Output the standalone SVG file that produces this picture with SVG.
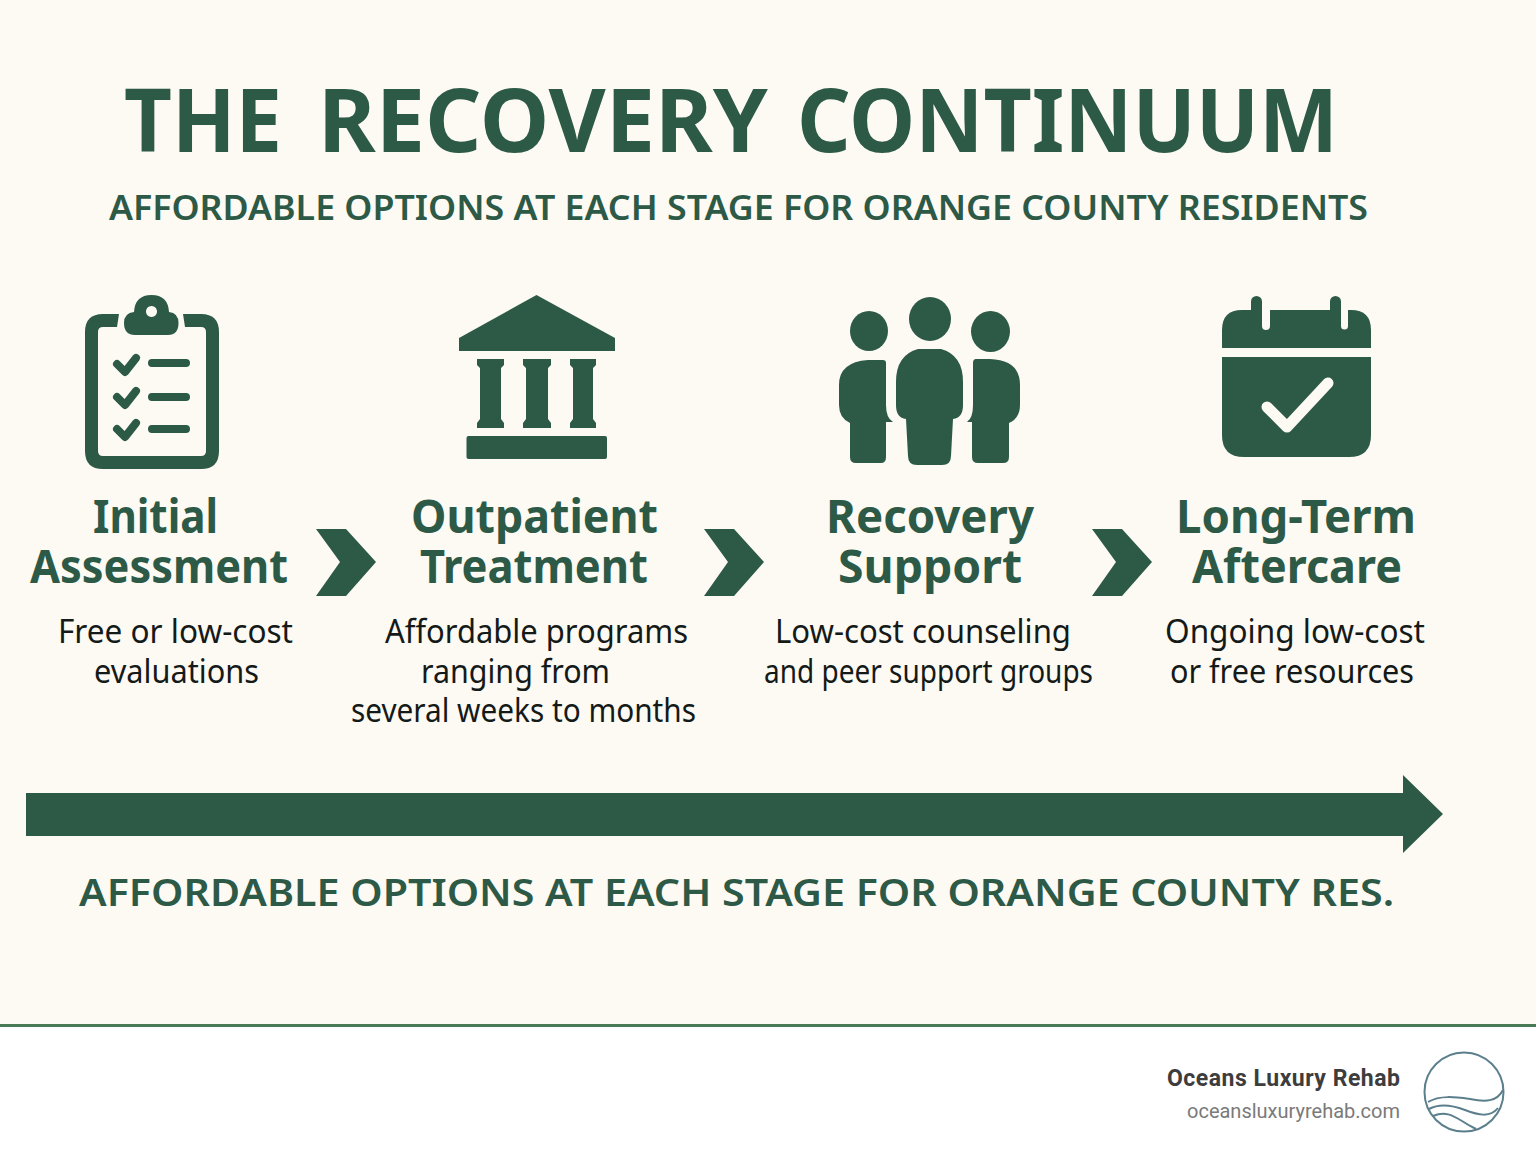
<svg xmlns="http://www.w3.org/2000/svg" width="1536" height="1154" viewBox="0 0 1536 1154">
<style>
text{font-family:"Noto Sans","Liberation Sans",sans-serif;fill:#2d5a47}
.ttl{font-weight:700;font-size:87px}
.sub{font-weight:600;font-size:35px}
.hd{font-weight:700;font-size:47px}
.bd{font-size:32px;fill:#141a18}
.ic{fill:#2d5a47}
.ln{fill:none;stroke:#2d5a47;stroke-linecap:round;stroke-linejoin:round}
.foot{font-family:Roboto,"Liberation Sans",sans-serif}
.wave{fill:none;stroke:#5b7f8c;stroke-width:2}
</style>
<rect width="1536" height="1154" fill="#ffffff"/>
<rect width="1536" height="1024" fill="#fdf9f3"/>
<rect y="1024" width="1536" height="3" fill="#4a7a55"/>
<g id="title">
<text class="ttl" y="152"><tspan x="124" textLength="158" lengthAdjust="spacingAndGlyphs">THE</tspan><tspan x="318" textLength="450" lengthAdjust="spacingAndGlyphs">RECOVERY</tspan><tspan x="797" textLength="541" lengthAdjust="spacingAndGlyphs">CONTINUUM</tspan></text>
<text class="sub" x="109" y="220" textLength="1259" lengthAdjust="spacingAndGlyphs">AFFORDABLE OPTIONS AT EACH STAGE FOR ORANGE COUNTY RESIDENTS</text>
</g>
<g id="node-assessment">
<path class="ic" d="M119 314H103Q85 314 85 332V451Q85 469 103 469H201Q219 469 219 451V332Q219 314 201 314H183L185 327H201Q206 327 206 332V451Q206 456 201 456H103Q98 456 98 451V332Q98 327 103 327H117Z"/>
<path class="ic" fill-rule="evenodd" d="M135 335Q124 335 124 323Q124 313 134 312Q135 295 151.500 295Q168 295 169 312Q178.500 313 178.500 323Q178.500 335 168 335Z M151.500 306a5.500 5.500 0 1 0 .01 0Z"/>
<path class="ln" style="stroke-width:8" d="M117 364L125 372L136 358M117 397L125 405L136 391M117 429L125 437L136 423"/>
<path class="ln" style="stroke-width:8" d="M152 363H186M152 397H186M152 429H186"/>
<text class="hd"><tspan x="93" y="533" textLength="125" lengthAdjust="spacingAndGlyphs">Initial</tspan><tspan x="30" y="583" textLength="258" lengthAdjust="spacingAndGlyphs">Assessment</tspan></text>
<text class="bd" x="58" y="643" textLength="235" lengthAdjust="spacingAndGlyphs">Free or low-cost</text>
<text class="bd" x="94" y="683" textLength="165" lengthAdjust="spacingAndGlyphs">evaluations</text>
</g>
<g id="node-outpatient">
<path class="ic" d="M536.500 295L615 338V351H459V338Z"/>
<path class="ic" d="M477 359H504V365L501 368V419L504 423V428H477V423L480 419V368L477 365Z"/>
<path class="ic" d="M523 359H551V365L548 368V419L551 423V428H523V423L526 419V368L523 365Z"/>
<path class="ic" d="M570 359H596V365L593 368V419L596 423V428H570V423L573 419V368L570 365Z"/>
<rect class="ic" x="466.500" y="436" width="140.500" height="23" rx="2"/>
<text class="hd"><tspan x="411" y="533" textLength="247" lengthAdjust="spacingAndGlyphs">Outpatient</tspan><tspan x="420" y="583" textLength="228" lengthAdjust="spacingAndGlyphs">Treatment</tspan></text>
<text class="bd" x="385" y="643" textLength="303" lengthAdjust="spacingAndGlyphs">Affordable programs</text>
<text class="bd" x="421" y="683" textLength="189" lengthAdjust="spacingAndGlyphs">ranging from</text>
<text class="bd" x="351" y="722" textLength="345" lengthAdjust="spacingAndGlyphs">several weeks to months</text>
</g>
<g id="node-support">
<ellipse class="ic" cx="930" cy="319" rx="21" ry="22"/>
<ellipse class="ic" cx="869" cy="331" rx="19" ry="20"/>
<ellipse class="ic" cx="990.500" cy="331.500" rx="19.500" ry="20.500"/>
<path class="ic" d="M918 349H941Q963 355 963 382V405Q963 418 953 419L951 456Q951 465 942 465H917Q908 465 908 456L906 419Q896 418 896 405V382Q896 355 918 349Z"/>
<path class="ic" d="M883 360Q886 360 886 363V405Q886 418 893 422H886V457Q886 463 881 463H856Q850 463 850 457V423Q839 418 839 405V385Q839 362 868 360Z"/>
<path class="ic" d="M976 359Q973 359 973 363V405Q973 418 967 422H972V457Q972 463 978 463H1003Q1009 463 1009 457V423Q1020 418 1020 405V385Q1020 360 990 359Z"/>
<text class="hd"><tspan x="826" y="533" textLength="208" lengthAdjust="spacingAndGlyphs">Recovery</tspan><tspan x="838" y="583" textLength="184" lengthAdjust="spacingAndGlyphs">Support</tspan></text>
<text class="bd" x="775" y="643" textLength="296" lengthAdjust="spacingAndGlyphs">Low-cost counseling</text>
<text class="bd" x="764" y="683" textLength="329" lengthAdjust="spacingAndGlyphs">and peer support groups</text>
</g>
<g id="node-aftercare">
<path class="ic" d="M1251 310V301.500a5.500 5.500 0 0 1 11 0V326a4 4 0 0 0 8 0V310H1330V301.500a5.500 5.500 0 0 1 11 0V326a3.500 3.500 0 0 0 7 0V310H1351Q1371 310 1371 330V348H1222V330Q1222 310 1242 310Z"/>
<path class="ic" d="M1222 357H1371V435Q1371 457 1349 457H1244Q1222 457 1222 435Z"/>
<path fill="none" stroke="#fdf9f3" stroke-width="11" stroke-linecap="round" stroke-linejoin="round" d="M1267 407L1287 427L1328 383"/>
<text class="hd"><tspan x="1176" y="533" textLength="240" lengthAdjust="spacingAndGlyphs">Long-Term</tspan><tspan x="1192" y="583" textLength="210" lengthAdjust="spacingAndGlyphs">Aftercare</tspan></text>
<text class="bd" x="1165" y="643" textLength="260" lengthAdjust="spacingAndGlyphs">Ongoing low-cost</text>
<text class="bd" x="1170" y="683" textLength="244" lengthAdjust="spacingAndGlyphs">or free resources</text>
</g>
<g id="connectors">
<path class="ic" d="M316 529H346L376 562L346 596H316L340 562Z"/>
<path class="ic" d="M704 529H734L764 562L734 596H704L728 562Z"/>
<path class="ic" d="M1092 529H1122L1152 562L1122 596H1092L1116 562Z"/>
<path class="ic" d="M26 793H1403V775L1443 814L1403 853V836H26Z"/>
</g>
<g id="caption">
<text class="sub" style="font-size:38px" x="79" y="906" textLength="1315" lengthAdjust="spacingAndGlyphs">AFFORDABLE OPTIONS AT EACH STAGE FOR ORANGE COUNTY RES.</text>
</g>
<g id="footer">
<text class="foot" style="fill:#3d3d3d;font-weight:700;font-size:23px" x="1167" y="1086" textLength="233" lengthAdjust="spacing">Oceans Luxury Rehab</text>
<text class="foot" style="fill:#7a7a7a;font-size:20px" x="1400" y="1118" text-anchor="end">oceansluxuryrehab.com</text>
<circle class="wave" cx="1464" cy="1092" r="39.500"/>
<path class="wave" d="M1428 1102C1440 1095 1455 1097 1470 1099C1485 1102 1497 1102 1503 1090"/>
<path class="wave" d="M1429 1109C1440 1103 1452 1105 1465 1110C1478 1115 1490 1118 1498 1108"/>
<path class="wave" d="M1433 1116C1445 1111 1452 1115 1462 1121C1468 1125 1472 1127 1476 1129"/>
</g>
</svg>
